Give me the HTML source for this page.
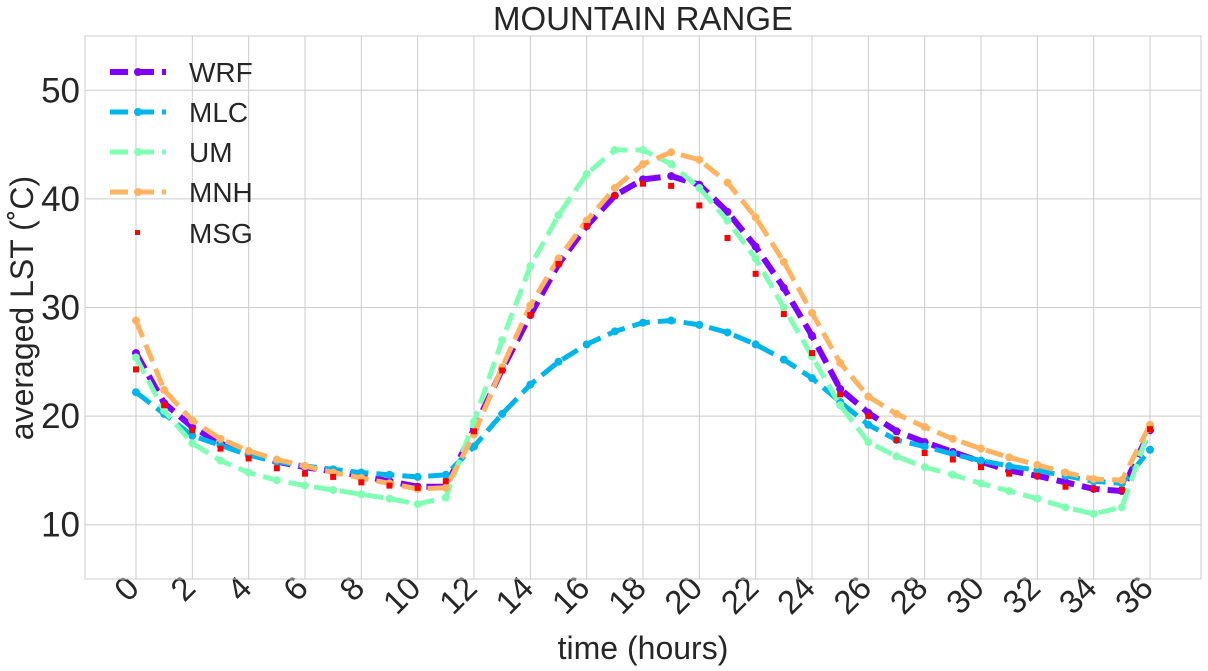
<!DOCTYPE html>
<html><head><meta charset="utf-8"><style>
body{margin:0;background:#fff;}
svg{display:block;font-family:"Liberation Sans",sans-serif;}
</style></head><body>
<svg id="chart" width="1208" height="671" viewBox="0 0 1208 671"></svg>
<script>
const hours = Array.from({length:37},(_,i)=>i);
const wrfValues = [25.8,21.2,19.0,17.5,16.5,15.8,15.3,14.9,14.5,14.0,13.5,13.5,18.8,24.3,29.3,34.0,37.5,40.3,41.8,42.1,41.3,38.8,35.6,31.8,27.4,22.5,20.3,18.6,17.6,16.7,15.8,15.0,14.5,13.9,13.3,13.1,18.7];
const mlcValues = [22.2,20.2,18.2,17.3,16.4,15.8,15.4,15.1,14.8,14.6,14.4,14.6,17.2,20.2,22.9,25.0,26.6,27.8,28.6,28.8,28.4,27.7,26.6,25.2,23.5,21.3,19.2,17.8,17.2,16.5,15.9,15.4,15.0,14.5,14.0,13.8,16.9];
const umValues = [25.4,20.5,17.5,15.9,14.8,14.1,13.6,13.2,12.8,12.4,11.9,12.5,19.5,27.0,33.8,38.5,42.3,44.5,44.5,43.2,41.0,38.0,34.5,30.0,25.5,21.0,17.6,16.3,15.3,14.6,13.8,13.1,12.4,11.6,11.0,11.6,19.0];
const mnhValues = [28.8,22.4,19.6,17.9,16.8,16.0,15.4,14.8,14.3,13.8,13.3,13.4,18.3,24.5,30.2,34.5,38.0,41.0,43.2,44.3,43.6,41.5,38.3,34.2,29.5,24.9,21.8,20.2,19.0,17.9,17.0,16.2,15.5,14.8,14.2,14.1,19.2];
const msgValues = [24.3,21.0,18.7,17.0,16.1,15.2,14.7,14.4,13.9,13.6,13.4,14.0,18.6,24.2,29.3,34.0,37.5,40.3,41.4,41.2,39.4,36.4,33.1,29.4,25.8,22.0,20.0,17.8,16.6,16.0,15.3,14.7,14.5,13.5,13.3,13.2,18.8];
const xTickLabels = ["0","2","4","6","8","10","12","14","16","18","20","22","24","26","28","30","32","34","36"];
const yTickLabels = ["10","20","30","40","50"];

const NS="http://www.w3.org/2000/svg";
const svg=document.getElementById('chart');
const L=85,R=1201,T=36,B=579;
const xMin=-1.81,xMax=37.81,yMin=5,yMax=55;
const sx=v=>L+(v-xMin)/(xMax-xMin)*(R-L);
const sy=v=>B-(v-yMin)/(yMax-yMin)*(B-T);
function mk(tag,attrs,parent){const e=document.createElementNS(NS,tag);for(const k in attrs)e.setAttribute(k,attrs[k]);(parent||svg).appendChild(e);return e;}

const grid=mk('g',{});


xTickLabels.forEach(t=>{const x=sx(+t);mk('line',{x1:x,x2:x,y1:T,y2:B,stroke:'#cccccc','stroke-width':1},grid);
 const tx=mk('text',{x:x+5,y:590,'font-size':33,fill:'#262626','text-anchor':'end',transform:`rotate(-45 ${x+5} 590)`});
 tx.textContent=t;
 
 });
yTickLabels.forEach(t=>{const y=sy(+t);mk('line',{x1:L,x2:R,y1:y,y2:y,stroke:'#cccccc','stroke-width':1},grid);
 const tx=mk('text',{x:80,y:y+12,'font-size':35,fill:'#262626','text-anchor':'end'});
 tx.textContent=t;
 
 });
const frame=mk('rect',{x:L,y:T,width:R-L,height:B-T,fill:'none',stroke:'#cccccc','stroke-width':1});



const series=[
 {name:'WRF',vals:wrfValues,color:'#8000ff',w:6},
 {name:'MLC',vals:mlcValues,color:'#00b5eb',w:5},
 {name:'UM',vals:umValues,color:'#80ffb4',w:5},
 {name:'MNH',vals:mnhValues,color:'#ffb360',w:5}];
series.forEach(s=>{
 const g=mk('g',{});
 
 
 mk('polyline',{points:s.vals.map((v,i)=>sx(hours[i])+','+sy(v)).join(' '),fill:'none',stroke:s.color,'stroke-width':s.w,'stroke-dasharray':'18 8','stroke-linejoin':'round'},g);
 s.vals.forEach((v,i)=>{const c=mk('circle',{cx:sx(hours[i]),cy:sy(v),r:4,fill:s.color},g);
  
  });
});
const mg=mk('g',{});


msgValues.forEach((v,i)=>{const r=mk('rect',{x:sx(hours[i])-3,y:sy(v)-3,width:6,height:6,fill:'#ff0000'},mg);
 
 });

const lg=mk('g',{});


const ly=[72,112,152,192,233];
series.forEach((s,i)=>{
 mk('line',{x1:110,x2:166,y1:ly[i],y2:ly[i],stroke:s.color,'stroke-width':s.w,'stroke-dasharray':'18 8'},lg);
 mk('circle',{cx:138,cy:ly[i],r:4,fill:s.color},lg);
 const t=mk('text',{x:189,y:ly[i]+10,'font-size':28,fill:'#262626'},lg);t.textContent=s.name;
 
 });
mk('rect',{x:135,y:ly[4]-3,width:5,height:5,fill:'#ff0000'},lg);
const mt=mk('text',{x:189,y:ly[4]+10,'font-size':28,fill:'#262626'},lg);mt.textContent='MSG';



const title=mk('text',{x:643,y:30,'font-size':33,fill:'#262626','text-anchor':'middle'});title.textContent='MOUNTAIN RANGE';


const xt=mk('text',{x:643,y:659,'font-size':32,fill:'#262626','text-anchor':'middle'});xt.textContent='time (hours)';


const yt=mk('text',{x:33,y:308,'font-size':32,fill:'#262626','text-anchor':'middle',transform:'rotate(-90 33 308)'});yt.textContent='averaged LST (˚C)';


</script>
</body></html>
